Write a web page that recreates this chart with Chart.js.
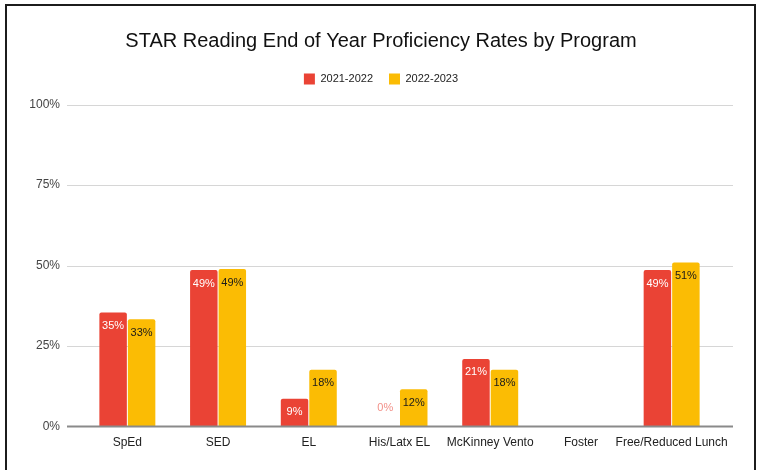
<!DOCTYPE html>
<html>
<head>
<meta charset="utf-8">
<script src="https://cdn.jsdelivr.net/npm/chart.js@4"></script>
<style>
  html, body { margin: 0; padding: 0; background: #fff; }
  #wrap { position: relative; width: 762px; height: 470px; overflow: hidden; }
  #frame { position: absolute; left: 5px; top: 4px; width: 747px; height: 480px; border: 2px solid #1c1c1c; pointer-events: none; }
</style>
</head>
<body>
<div id="wrap">
  <canvas id="chart"></canvas>
  <div id="frame"></div>
</div>
<script>
const programs = ['SpEd', 'SED', 'EL', 'His/Latx EL', 'McKinney Vento', 'Foster', 'Free/Reduced Lunch']
const year2122 = [35.4, 48.6, 8.6, 0, 21.0, null, 48.6]
const year2223 = [33.3, 48.9, 17.6, 11.6, 17.6, null, 50.9]
const yTicks = [0, 25, 50, 75, 100]

const RED = '#EA4335'
const YELLOW = '#FBBC04'
const FONT = '"Liberation Sans", Arial, sans-serif'

// grid lines run a bit past the bars, like the sheets chart
const gridPlugin = {
  id: 'gridLines',
  beforeDatasetsDraw(chart) {
    const { ctx, chartArea, scales: { y } } = chart
    ctx.save()
    ctx.strokeStyle = '#d6d6d6'
    ctx.lineWidth = 1
    yTicks.forEach(v => {
      if (v === 0) return
      const py = Math.round(y.getPixelForValue(v)) + 0.5
      ctx.beginPath()
      ctx.moveTo(chartArea.left - 15, py)
      ctx.lineTo(chartArea.right + 16, py)
      ctx.stroke()
    })
    ctx.restore()
  },
  afterDatasetsDraw(chart) {
    const { ctx, chartArea, scales: { y } } = chart
    const py = y.getPixelForValue(0)
    ctx.save()
    ctx.strokeStyle = '#8a8a8a'
    ctx.lineWidth = 2
    ctx.beginPath()
    ctx.moveTo(chartArea.left - 15, py)
    ctx.lineTo(chartArea.right + 16, py)
    ctx.stroke()
    ctx.restore()
  }
}

// value labels inside the top of each bar
const valueLabels = {
  id: 'valueLabels',
  afterDatasetsDraw(chart) {
    const { ctx, scales: { y } } = chart
    ctx.save()
    ctx.font = '11px ' + FONT
    ctx.textAlign = 'center'
    ctx.textBaseline = 'middle'
    chart.data.datasets.forEach((ds, di) => {
      const meta = chart.getDatasetMeta(di)
      meta.data.forEach((bar, i) => {
        const v = ds.data[i]
        if (v === null || v === undefined) return
        const txt = Math.round(v) + '%'
        if (v === 0) {
          ctx.fillStyle = 'rgba(234,67,53,0.6)'
          ctx.fillText(txt, bar.x, y.getPixelForValue(0) - 19)
        } else {
          ctx.fillStyle = di === 0 ? '#ffffff' : '#1a1a1a'
          ctx.fillText(txt, bar.x, bar.y + 13.5)
        }
      })
    })
    ctx.restore()
  }
}

new Chart(document.getElementById('chart'), {
  type: 'bar',
  data: {
    labels: programs,
    datasets: [
      {
        label: '2021-2022',
        data: year2122,
        backgroundColor: RED,
        borderRadius: 2,
        categoryPercentage: 0.628,
        barPercentage: 0.965,
      },
      {
        label: '2022-2023',
        data: year2223,
        backgroundColor: YELLOW,
        borderRadius: 2,
        categoryPercentage: 0.628,
        barPercentage: 0.965,
      }
    ]
  },
  options: {
    responsive: true, maintainAspectRatio: false,
    animation: false,
    layout: { padding: 0 },
    plugins: {
      title: {
        display: true,
        text: 'STAR Reading End of Year Proficiency Rates by Program',
        color: '#111',
        font: { family: FONT, size: 20, weight: 'normal', lineHeight: 1.2 },
        padding: { top: 29.5, bottom: 4 }
      },
      legend: {
        position: 'top',
        labels: {
          color: '#222',
          font: { family: FONT, size: 11 },
          boxWidth: 11, boxHeight: 11, padding: 16
        }
      },
      subtitle: {
        display: true, text: '', weight: 500,
        font: { size: 1, lineHeight: 1 },
        padding: { top: 9, bottom: 0 }
      },
      tooltip: { enabled: false }
    },
    scales: {
      x: {
        grid: { display: false },
        border: { display: false },
        ticks: { color: '#222', font: { family: FONT, size: 12 }, padding: 1, maxRotation: 0, autoSkip: false },
        afterFit: s => { s.height = 43.5 }
      },
      y: {
        min: 0, max: 100,
        grid: { display: false, drawTicks: false },
        border: { display: false },
        ticks: { stepSize: 25, color: '#444', font: { family: FONT, size: 12 }, padding: 22, callback: v => v + '%' },
        afterFit: s => { s.width = 82 }
      },
      yRight: {
        position: 'right',
        grid: { display: false, drawTicks: false },
        border: { display: false },
        ticks: { display: false },
        afterFit: s => { s.width = 45 }
      }
    }
  },
  plugins: [gridPlugin, valueLabels]
})
</script>
</body>
</html>
